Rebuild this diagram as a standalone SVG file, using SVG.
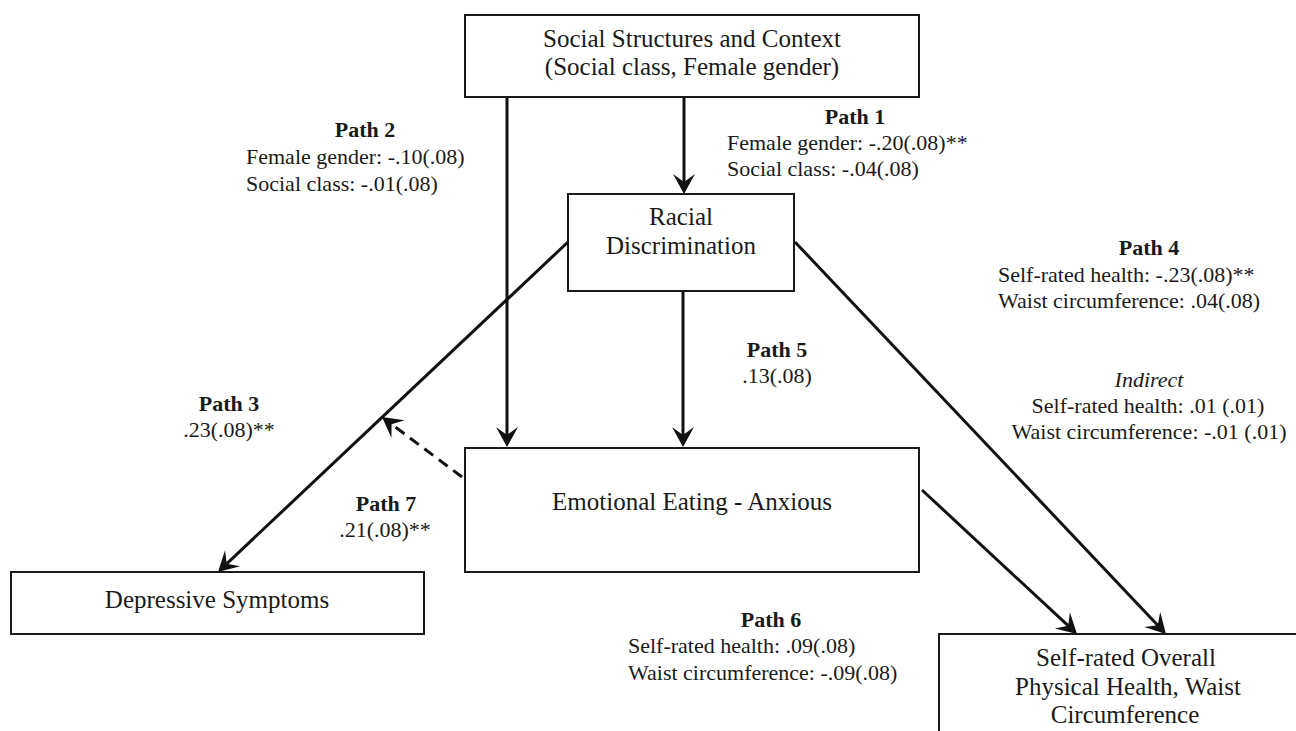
<svg xmlns="http://www.w3.org/2000/svg" width="1296" height="731" viewBox="0 0 1296 731">
<defs>
<style>
.box{fill:#fff;stroke:#1a1a1a;stroke-width:2}
.node{font-family:"Liberation Serif","Times New Roman",serif;font-size:25px;fill:#1a1a1a;text-anchor:middle}
.lbl{font-family:"Liberation Serif","Times New Roman",serif;font-size:22px;fill:#1a1a1a}
.b{font-weight:bold}
.c{text-anchor:middle}
.conn{stroke:#111;stroke-width:3;fill:none}
.dash{stroke-dasharray:11,7}
</style>
<marker id="arr" markerUnits="userSpaceOnUse" viewBox="-12 -12 24 24" refX="0" refY="0" markerWidth="24" markerHeight="24" orient="auto" overflow="visible">
<path d="M10,0 L-10,-11 L-2,0 L-10,11 Z" fill="#111"/>
</marker>
</defs>
<rect width="1296" height="731" fill="#fff"/>

<g id="connectors">
<line class="conn" x1="684" y1="97" x2="684" y2="184" marker-end="url(#arr)"/>
<line class="conn" x1="507" y1="97" x2="507" y2="437" marker-end="url(#arr)"/>
<line class="conn" x1="683" y1="291" x2="683" y2="437" marker-end="url(#arr)"/>
<line class="conn" x1="568" y1="242" x2="225.3" y2="565.1" marker-end="url(#arr)"/>
<line class="conn" x1="795" y1="242" x2="1159.1" y2="626.7" marker-end="url(#arr)"/>
<line class="conn" x1="922" y1="490" x2="1069.7" y2="627.2" marker-end="url(#arr)"/>
<line class="conn dash" x1="462" y1="477" x2="390" y2="423" marker-end="url(#arr)"/>
</g>

<g id="social">
<rect class="box" x="465" y="15" width="454" height="82"/>
<text class="node" x="692" y="47">Social Structures and Context</text>
<text class="node" x="692" y="75">(Social class, Female gender)</text>
</g>

<g id="racial">
<rect class="box" x="568" y="194" width="226" height="97"/>
<text class="node" x="681" y="225">Racial</text>
<text class="node" x="681" y="254">Discrimination</text>
</g>

<g id="emotional">
<rect class="box" x="465" y="448" width="454" height="124"/>
<text class="node" x="692" y="510">Emotional Eating - Anxious</text>
</g>

<g id="depressive">
<rect class="box" x="11" y="572" width="413" height="62"/>
<text class="node" x="217" y="608">Depressive Symptoms</text>
</g>

<g id="health">
<rect class="box" x="939" y="634" width="400" height="120"/>
<text class="node" x="1126" y="666">Self-rated Overall</text>
<text class="node" x="1128" y="695">Physical Health, Waist</text>
<text class="node" x="1125" y="723">Circumference</text>
</g>

<g id="labels">
<text class="lbl b c" x="855" y="124">Path 1</text>
<text class="lbl" x="727" y="150">Female gender: -.20(.08)**</text>
<text class="lbl" x="727" y="176">Social class: -.04(.08)</text>

<text class="lbl b c" x="365" y="137">Path 2</text>
<text class="lbl" x="246" y="164">Female gender: -.10(.08)</text>
<text class="lbl" x="246" y="191">Social class: -.01(.08)</text>

<text class="lbl b c" x="229" y="411">Path 3</text>
<text class="lbl c" x="229" y="437">.23(.08)**</text>

<text class="lbl b c" x="1149" y="255">Path 4</text>
<text class="lbl" x="998" y="282">Self-rated health: -.23(.08)**</text>
<text class="lbl" x="998" y="308">Waist circumference: .04(.08)</text>

<text class="lbl c" x="1149" y="387" font-style="italic">Indirect</text>
<text class="lbl c" x="1148" y="413">Self-rated health: .01 (.01)</text>
<text class="lbl c" x="1149" y="439">Waist circumference: -.01 (.01)</text>

<text class="lbl b c" x="777" y="357">Path 5</text>
<text class="lbl c" x="777" y="383">.13(.08)</text>

<text class="lbl b c" x="771" y="627">Path 6</text>
<text class="lbl" x="628" y="653">Self-rated health: .09(.08)</text>
<text class="lbl" x="628" y="680">Waist circumference: -.09(.08)</text>

<text class="lbl b c" x="386" y="511">Path 7</text>
<text class="lbl c" x="385" y="537">.21(.08)**</text>
</g>
</svg>
